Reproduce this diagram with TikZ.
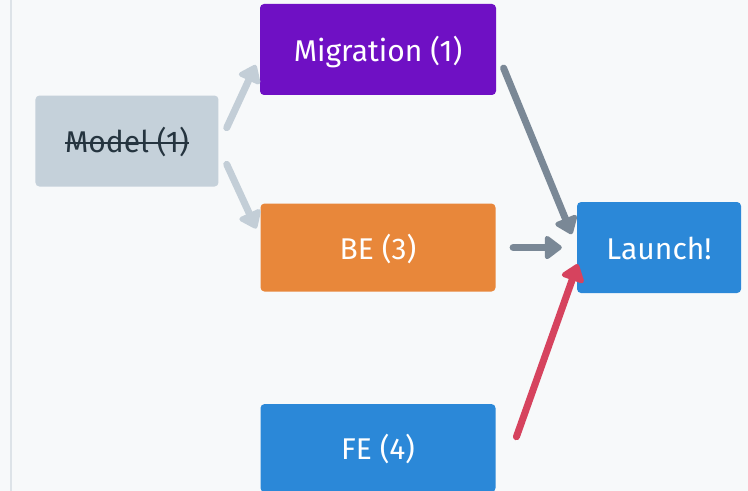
\documentclass[tikz,border=0pt]{standalone}
\usepackage{fontspec}
\setmainfont{Fira Sans}
\usetikzlibrary{positioning,arrows.meta}
\definecolor{migpurple}{HTML}{6F10C4}
\definecolor{beorange}{HTML}{E8873A}
\definecolor{feblue}{HTML}{2B88D8}
\definecolor{modelgray}{HTML}{C5D1DA}
\definecolor{modeltext}{HTML}{25343F}
\definecolor{edgegray}{HTML}{7A8896}
\definecolor{edgelight}{HTML}{C3CED7}
\definecolor{edgered}{HTML}{D6435E}
\definecolor{canvas}{HTML}{F7F9FA}
\definecolor{sideline}{HTML}{DDE3E8}
\newsavebox{\strikebox}
\newcommand{\struck}[1]{\sbox{\strikebox}{#1}\rlap{\rule[0.3em]{\wd\strikebox}{1.6pt}}\usebox{\strikebox}}
\tikzset{
  task/.style={rectangle, rounded corners=3pt, text=white, inner sep=0pt,
    font=\fontsize{22.5}{26}\selectfont, text height=17.5pt, text depth=0pt,
    minimum height=68.25pt},
  done/.style={task, fill=modelgray, text=modeltext},
  link/.style={line width=5.25pt, line cap=round,
    -{Triangle[round, length=14pt, width=20pt]}},
}
\begin{document}
\begin{tikzpicture}
% canvas
 \fill[canvas] (0,0) rectangle (561pt,-368.25pt);
 \useasboundingbox (0,0) rectangle (561pt,-368.25pt);
 \draw[sideline, line width=0.8pt] (8.25pt,0) -- (8.25pt,-368.25pt);
% nodes
 \node[task, fill=migpurple, minimum width=177pt] (mig) at (283.5pt,-37.125pt) {Migration (1)};
 \node[task, fill=beorange, minimum width=176.25pt, minimum height=66pt, below=81pt of mig] (be) {BE (3)};%
 \node[task, fill=feblue, minimum width=176.25pt, minimum height=66pt, below=84pt of be] (fe) {FE (4)};%
 \node[task, fill=feblue, minimum width=123pt, right=60.75pt of be] (launch) {Launch!};%
 \node[done, minimum width=137.25pt, below left=0pt and 30.75pt of mig] (model) {\struck{Model (1)}};%
% edges
 \draw[link, edgelight] ([xshift=6pt,yshift=10pt]model.east) -- ([xshift=-3pt,yshift=-11.6pt]mig.west);
 \draw[link, edgelight] ([xshift=6pt,yshift=-17.5pt]model.east) -- ([xshift=-3pt,yshift=14.25pt]be.west);
 \draw[link, edgegray] ([xshift=5.5pt,yshift=-14pt]mig.east) -- ([xshift=-3.75pt,yshift=10pt]launch.west);
 \draw[link, edgegray] ([xshift=13pt]be.east) -- ([xshift=-11.25pt]launch.west);
 \draw[link, edgered] ([xshift=15.5pt,yshift=8.5pt]fe.east) -- ([xshift=0.75pt,yshift=-12.4pt]launch.west);
\end{tikzpicture}
\end{document}
